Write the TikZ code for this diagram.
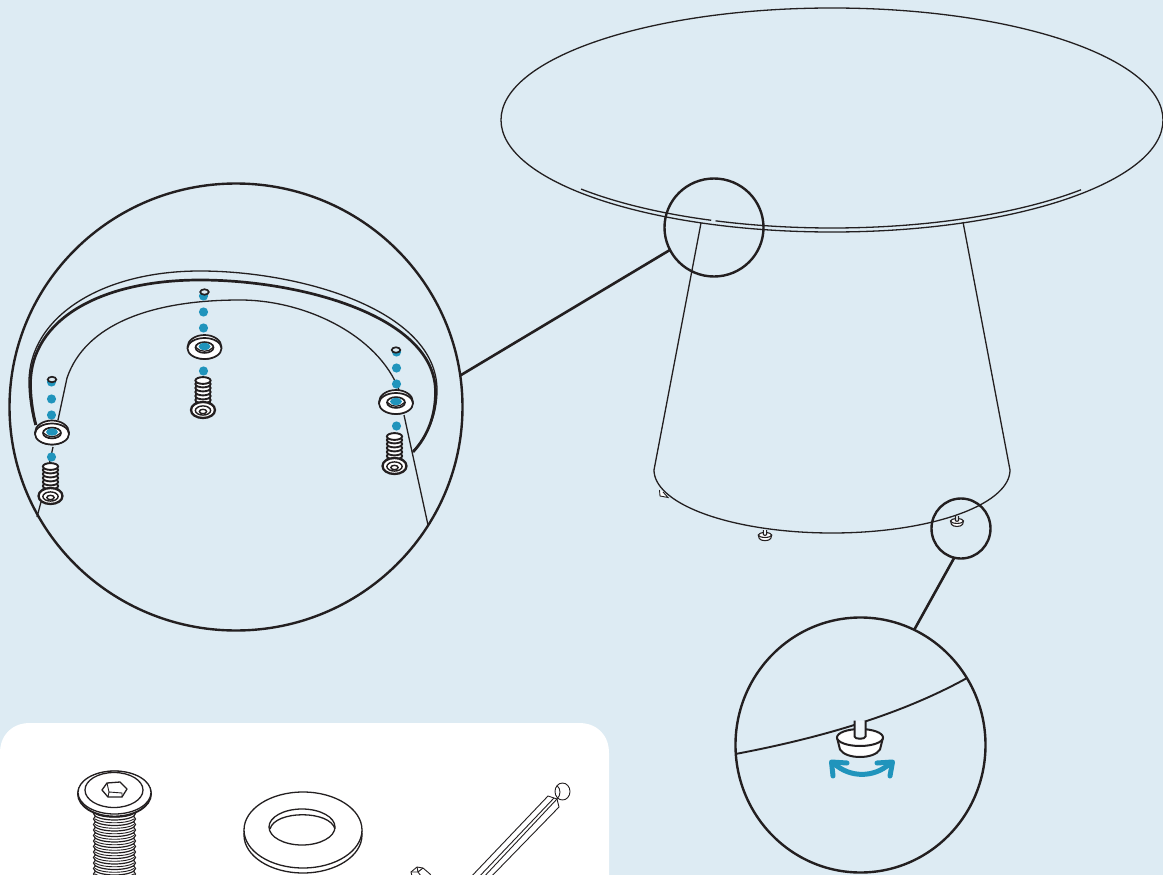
\documentclass[tikz,border=0pt]{standalone}
\usetikzlibrary{shapes.geometric}
\definecolor{bgblue}{HTML}{DDEBF3}
\definecolor{dotblue}{HTML}{2094BC}
\definecolor{ink}{HTML}{231F20}
\tikzset{
  thinline/.style={draw=ink,line width=1.3pt},
  midline/.style={draw=ink,line width=1.7pt},
  lens/.style={ellipse,draw=ink,line width=2.4pt,inner sep=0pt,outer sep=0pt},
  leader/.style={draw=ink,line width=2.6pt},
  bluedot/.style={fill=dotblue,draw=none},
  fineline/.style={draw=ink,line width=.9pt},
  washersmall/.pic={
    \path[midline,fill=white] (0,.5) circle[x radius=17,y radius=12];
    \path[midline,fill=white] (0,2) circle[x radius=17,y radius=10.5];
    \path[midline,fill=white] (0,1) circle[x radius=9,y radius=5.4];
    \path[bluedot] (0,0) circle[x radius=6,y radius=3.6];
    \path[draw=ink,line width=1.2pt] (-8.5,1) .. controls (-4,6) and (4,6) .. (8.5,1);
  },
  screwsmall/.pic={
    \foreach \t in {-6,-10,-14,-18,-22,-26,-29.5}{
      \path[draw=ink,line width=1.9pt,fill=white] (0,\t) circle[x radius=7.6,y radius=3.4];
    }
    \path[draw=ink,line width=2.3pt,fill=white] (0,0) circle[x radius=12,y radius=8];
    \path[draw=ink,line width=1.4pt] (0,.5) circle[x radius=7.6,y radius=4.6];
    \path[draw=ink,line width=1.4pt] (0,1.5) circle[x radius=3.6,y radius=2.2];
  },
  rubberfoot/.pic={
    \path[draw=ink,line width=\pgfkeysvalueof{/tikz/footlw},fill=white,line join=round] (-23,0) -- (-20,12) .. controls (-14,22) and (14,22) .. (20,12) -- (23,0) -- cycle;
    \path[draw=ink,line width=\pgfkeysvalueof{/tikz/footlw},fill=white] (0,0) circle[x radius=23,y radius=8.5];
    \path[draw=ink,line width=\pgfkeysvalueof{/tikz/footlw},fill=bgblue!50!white] (-5.5,-17) -- (-5.5,-1) .. controls (-5.5,2) and (5.5,2) .. (5.5,-1) -- (5.5,-17);
  },
  footlw/.initial=1.4pt,
}
\begin{document}
\begin{tikzpicture}[x=1pt,y=-1pt]
\useasboundingbox (0,0) rectangle (1163,875);
\clip (0,0) rectangle (1163,875);
\fill[bgblue] (0,0) rectangle (1163,875);

% ---- table
\path[thinline] (832,120) circle[x radius=331,y radius=112];
\path[thinline] plot[domain=41.2:110.6,samples=50,smooth] ({832+331*cos(\x)},{116+112*sin(\x)});
\path[thinline] plot[domain=111.4:139.3,samples=30,smooth] ({832+331*cos(\x)},{116+112*sin(\x)});
\path[thinline] (701,223) -- (654,470);
\path[thinline] (963,222) -- (1010,470);
\path[thinline] plot[domain=0:180,samples=70,smooth] ({832+178*cos(\x)},{470+63*sin(\x)});

% small feet under the base
\path[footlw=1.1pt] (765,535) pic[scale=.29] {rubberfoot};
\path[footlw=1.1pt] (957,521) pic[scale=.28] {rubberfoot};
\path[fineline,fill=white] (659.5,490) -- (660,496) -- (668,497.5) -- (663,492);

% ---- lenses and leaders
\node[lens,minimum width=99pt,minimum height=98pt] (lensTop) at (714,227.5) {};
\node[lens,minimum width=453pt,minimum height=447pt] (lensBig) at (236,407) {};
\node[lens,minimum width=59pt,minimum height=60pt] (lensFoot) at (961,528.5) {};
\node[lens,minimum width=250pt,minimum height=255pt] (lensDetail) at (860.5,745) {};
\draw[leader] (lensTop.207) -- (lensBig.8);
\draw[leader] (lensFoot.257) -- (lensDetail.65);

% ---- big lens: rim arcs
\path[thinline] (35,425) .. controls (31,410) and (29,395) .. (29,382) .. controls (29,318) and (100,271) .. (200,271) .. controls (300,271) and (437,310) .. (437,390) .. controls (437,415) and (428,435) .. (413,451);
\path[draw=ink,line width=2.7pt] (36,425) .. controls (32,410) and (30.5,395) .. (30.5,384) .. controls (30.5,320) and (100,280) .. (200,280) .. controls (300,280) and (435.5,316) .. (435.5,392) .. controls (435.5,415) and (428,436) .. (413,452);
\path[thinline] (58,420) -- (67,378) .. controls (85,325) and (150,300) .. (240,300) .. controls (305,300) and (378,335) .. (399,390);
\path[thinline] (404,415) -- (428,525);
\path[thinline] (53,447) -- (49,465);
\path[thinline] (41,502) -- (37,517);

% ---- blue dotted guides
\foreach \px/\ya/\yb/\yc/\yd in {51.5/382/399/415/457, 203.5/296/312/328/371, 396.5/352/368/384/426}{
  \foreach \py in {\ya,\yb,\yc,\yd}{
    \path[bluedot] (\px,\py) circle[radius=4.6];
  }
}
% ---- holes, washers, screws
\foreach \hx/\hy in {52/379.5, 204.5/292, 396/350}{
  \path[midline,fill=bgblue] (\hx,\hy) circle[x radius=4.3,y radius=2.7];
}
\path (52,432) pic {washersmall};
\path (204.5,346.5) pic {washersmall};
\path (396,401.5) pic {washersmall};
\path (50.5,496) pic {screwsmall};
\path (203,410) pic {screwsmall};
\path (394.5,466) pic {screwsmall};

% ---- detail of the foot
\path[draw=ink,line width=1.9pt] (735.5,754) .. controls (820,738) and (900,715) .. (967,678);
\path[footlw=2pt] (860,737.5) pic {rubberfoot};
\path[draw=dotblue,line width=5pt,line join=round,line cap=round] (833,776) -- (831.5,762) -- (847,763);
\path[draw=dotblue,line width=5pt,line join=round,line cap=round] (890,776) -- (892.5,762) -- (877,763);
\path[draw=dotblue,line width=5pt,line cap=round] (834,763.5) .. controls (850,778) and (874,778) .. (890,763.5);

% ---- parts panel
\path[fill=white] (0,950) -- (0,753) .. controls (0,735) and (12,723) .. (30,723) -- (579,723) .. controls (597,723) and (609,735) .. (609,753) -- (609,950) -- cycle;

% big screw
\foreach \t in {885,879.5,...,812}{
  \path[draw=ink,line width=1.2pt,fill=white] (114.5,\t) circle[x radius=21,y radius=6.5];
  \path[fineline] (95,\t) .. controls (102,\t+5) and (127,\t+5) .. (134,\t);
}
\path[draw=ink,line width=1.9pt,fill=white] (114.5,794) circle[x radius=36.5,y radius=22.5];
\path[thinline,fill=white] (114.5,792.5) circle[x radius=36.5,y radius=21.5];
\path[thinline] (114,790) circle[x radius=29,y radius=17.5];
\path[thinline,line join=round] (107,783) -- (120,782) -- (127,789) -- (122,797) -- (108,797) -- (102,790) -- cycle;
\path[fineline] (107,783) -- (109,792) -- (108,797) (109,792) -- (122,793) -- (122,797);

% washer
\path[thinline,fill=white] (303,835) circle[x radius=59,y radius=38];
\path[thinline,fill=white] (303,830) circle[x radius=59,y radius=38];
\path[thinline,fill=white] (302,827) circle[x radius=33,y radius=18];
\path[thinline] (270,829) .. controls (275,810) and (330,810) .. (335,829);

% bit
\path[fineline,fill=white] (548,796) -- (468,880) -- (488,880) -- (559,807) -- (557,799) -- cycle;
\path[fineline] (554,798) -- (476,880);
\path[fineline] (557,799) -- (481,880);
\path[fineline,fill=white] (562.5,791.5) circle[x radius=7.5,y radius=8.5];
\path[fineline] (557,785.5) .. controls (561,789) and (561,795) .. (557,799);
\path[fineline,fill=white] (411,872) -- (417,867) -- (423,868) -- (430,874) -- (433,880) -- (413,880) -- cycle;
\path[fineline] (417,867) -- (418,872) -- (411,872) (418,872) -- (423,868) (418,872) -- (424,880);
\end{tikzpicture}
\end{document}
